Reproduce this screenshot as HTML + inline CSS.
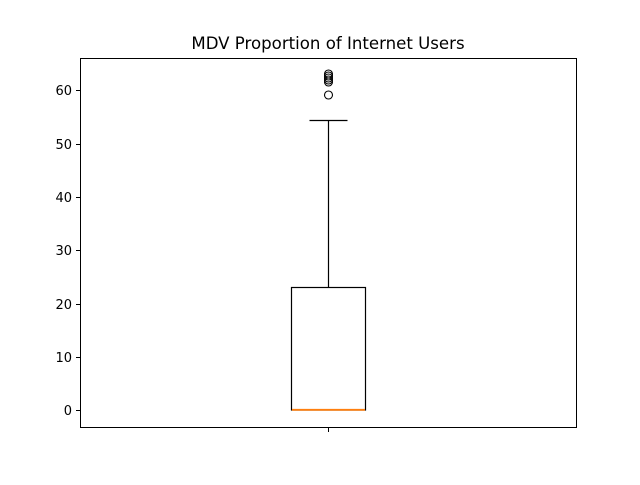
<!DOCTYPE html>
<html><head><style>body{margin:0;background:#fff}</style></head><body>
<svg width="640" height="480" xmlns="http://www.w3.org/2000/svg" font-family="DejaVu Sans, Liberation Sans, sans-serif">
<rect width="640" height="480" fill="#fff"/>
<text x="328" y="49" font-size="16.6" text-anchor="middle" fill="#000">MDV Proportion of Internet Users</text>
<rect x="80.5" y="58.5" width="496" height="369" fill="none" stroke="#000" stroke-width="1"/>
<g stroke="#000" stroke-width="1">
<line x1="76" y1="410.5" x2="80" y2="410.5"/>
<line x1="76" y1="357.5" x2="80" y2="357.5"/>
<line x1="76" y1="304.5" x2="80" y2="304.5"/>
<line x1="76" y1="250.5" x2="80" y2="250.5"/>
<line x1="76" y1="197.5" x2="80" y2="197.5"/>
<line x1="76" y1="144.5" x2="80" y2="144.5"/>
<line x1="76" y1="90.5" x2="80" y2="90.5"/>
<line x1="328.5" y1="428" x2="328.5" y2="432"/>
</g>
<g font-size="13" text-anchor="end" fill="#000">
<text x="72" y="415">0</text>
<text x="72" y="362">10</text>
<text x="72" y="309">20</text>
<text x="72" y="255">30</text>
<text x="72" y="202">40</text>
<text x="72" y="149">50</text>
<text x="72" y="95">60</text>
</g>
<rect x="291.5" y="287.5" width="74" height="122.5" fill="none" stroke="#000" stroke-width="1.2"/>
<line x1="328.5" y1="287" x2="328.5" y2="120.5" stroke="#000" stroke-width="1.2"/>
<line x1="309.5" y1="120.5" x2="347.5" y2="120.5" stroke="#000" stroke-width="1.2"/>
<line x1="309.5" y1="410" x2="347.5" y2="410" stroke="#000"/>
<line x1="292" y1="409.8" x2="365" y2="409.8" stroke="#ff7f0e" stroke-width="1.8"/>
<g fill="none" stroke="#000" stroke-width="1.1">
<circle cx="328.5" cy="74" r="4"/>
<circle cx="328.5" cy="76" r="4"/>
<circle cx="328.5" cy="78" r="4"/>
<circle cx="328.5" cy="80" r="4"/>
<circle cx="328.5" cy="82" r="4"/>
<circle cx="328.5" cy="95" r="4"/>
</g>
</svg>
</body></html>
